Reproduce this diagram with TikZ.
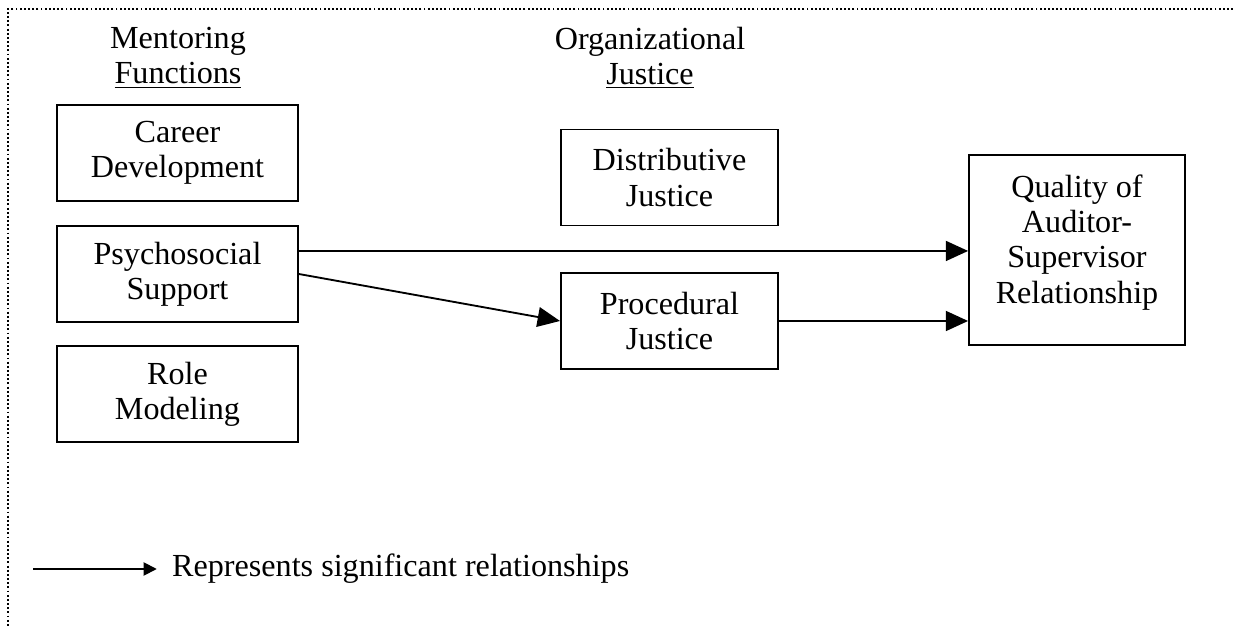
\documentclass[tikz,border=0pt]{standalone}
\usepackage{fontspec}
\setmainfont{Liberation Serif}
\usetikzlibrary{arrows.meta}

\tikzset{
  box/.style={draw, line width=0.8pt, align=center, minimum width=3.66cm, minimum height=1.46cm, inner sep=2pt},
  jbox/.style={box, minimum width=3.3cm},
  link/.style={line width=1.2pt, -{Triangle[length=0.34cm,width=0.3cm]}},
}

\begin{document}
\begin{tikzpicture}[x=0.0152cm, y=-0.0152cm, font=\fontsize{13.9}{15.2}\selectfont]
\useasboundingbox (0,0) rectangle (1233,628);
\draw[densely dotted, line width=0.8pt] (1233,9) -- (8,9) -- (8,628);

\node[align=center] (mhead) at (178,58) {Mentoring\\\underline{Functions}};
\node[align=center] (jhead) at (650,58) {Organizational\\\underline{Justice}};

\node[box] (career) at (177.5,153) {Career\\Development};
\node[box] (psych) at (177.5,274) {Psychosocial\\Support};
\node[box] (role) at (177.5,394) {Role\\Modeling};
\node[jbox] (distr) at (669.5,177.5) {Distributive\\Justice};
\node[jbox] (proc) at (669.5,321) {Procedural\\Justice};
\node[draw, line width=0.8pt, minimum width=3.28cm, minimum height=2.9cm] (qual) at (1077,250) {};
\node[align=center, anchor=north] (qualtext) at ([yshift=-0.2cm]qual.north) {Quality of\\Auditor-\\Supervisor\\Relationship};

\draw[link] ([yshift=0.35cm]psych.east) -- ([yshift=0.35cm]psych.east -| qual.west);
\draw[line width=0.8pt, -{Triangle[length=0.34cm,width=0.3cm]}] (psych.east) -- (proc.west);
\draw[link] (proc.east) -- (proc.east -| qual.west);

\coordinate (legstart) at (33,569);
\node[anchor=west] (legtext) at (164,569) {Represents significant relationships};
\draw[line width=0.8pt, -{Triangle[length=0.2cm,width=0.2cm]}, shorten >=0.11cm] (legstart) -- (legtext.west);
\end{tikzpicture}
\end{document}
